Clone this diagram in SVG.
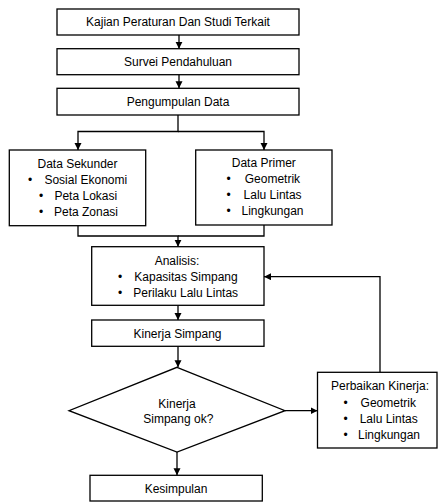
<svg xmlns="http://www.w3.org/2000/svg" width="438" height="503" viewBox="0 0 438 503">
<style>
  .box{fill:#fff;stroke:#000;stroke-width:1.3}
  .t{font-family:"Liberation Sans",Arial,sans-serif;font-size:12px;fill:#000;text-anchor:middle}
  .b{font-family:"Liberation Sans",Arial,sans-serif;font-size:12px;fill:#000;text-anchor:middle}
  .c{fill:none;stroke:#000;stroke-width:1.3}
</style>
<defs>
  <marker id="ah" markerUnits="userSpaceOnUse" markerWidth="8" markerHeight="8" refX="7" refY="3.5" orient="auto">
    <path d="M0,0 L7,3.5 L0,7 z" fill="#000"/>
  </marker>
</defs>
<rect width="438" height="503" fill="#fff"/>
<g id="connectors">
  <path class="c" d="M179,35 V48.7" marker-end="url(#ah)"/>
  <path class="c" d="M179,74.7 V88.3" marker-end="url(#ah)"/>
  <path class="c" d="M178,115 V131.5 H78 V150" marker-end="url(#ah)"/>
  <path class="c" d="M178,131.5 H264 V150" marker-end="url(#ah)"/>
  <path class="c" d="M78,226 V236 H178 V246.7" marker-end="url(#ah)"/>
  <path class="c" d="M264,225 V236 H178"/>
  <path class="c" d="M178,305.3 V320" marker-end="url(#ah)"/>
  <path class="c" d="M178,346.3 V367.3" marker-end="url(#ah)"/>
  <path class="c" d="M285,410.7 H317.5" marker-end="url(#ah)"/>
  <path class="c" d="M380,372.3 V276.7 H264" marker-end="url(#ah)"/>
  <path class="c" d="M177,452 V475.3" marker-end="url(#ah)"/>
</g>
<g id="kajian">
  <rect class="box" x="57" y="9" width="242" height="26"/>
  <text class="t" x="178" y="26">Kajian Peraturan Dan Studi Terkait</text>
</g>
<g id="survei">
  <rect class="box" x="57" y="48.7" width="242" height="26"/>
  <text class="t" x="178" y="66">Survei Pendahuluan</text>
</g>
<g id="pengumpulan">
  <rect class="box" x="57" y="88.3" width="242" height="26.7"/>
  <text class="t" x="178" y="106.3">Pengumpulan Data</text>
</g>
<g id="sekunder">
  <rect class="box" x="9.3" y="150" width="136.4" height="75.7"/>
  <text class="t" x="77.5" y="167.5">Data Sekunder</text>
  <text class="b" x="30" y="183.5">•</text>
  <text class="t" x="85.8" y="183.5">Sosial Ekonomi</text>
  <text class="b" x="41" y="200">•</text>
  <text class="t" x="85.8" y="200">Peta Lokasi</text>
  <text class="b" x="41" y="216">•</text>
  <text class="t" x="86" y="216">Peta Zonasi</text>
</g>
<g id="primer">
  <rect class="box" x="195.7" y="150" width="136.3" height="75"/>
  <text class="t" x="263.8" y="167">Data Primer</text>
  <text class="b" x="228.7" y="183">•</text>
  <text class="t" x="272.4" y="183">Geometrik</text>
  <text class="b" x="228.7" y="199.3">•</text>
  <text class="t" x="272.6" y="199.3">Lalu Lintas</text>
  <text class="b" x="228.7" y="215.3">•</text>
  <text class="t" x="272.5" y="215.3">Lingkungan</text>
</g>
<g id="analisis">
  <rect class="box" x="91.7" y="246.7" width="172.3" height="58.6"/>
  <text class="t" x="177" y="265.3">Analisis:</text>
  <text class="b" x="120" y="281">•</text>
  <text class="t" x="186" y="281">Kapasitas Simpang</text>
  <text class="b" x="120" y="296.6">•</text>
  <text class="t" x="185.7" y="296.6">Perilaku Lalu Lintas</text>
</g>
<g id="kinerja">
  <rect class="box" x="91.7" y="320" width="172.3" height="26.3"/>
  <text class="t" x="177.5" y="337.6">Kinerja Simpang</text>
</g>
<g id="keputusan">
  <polygon class="box" points="177,367.3 285,410.7 177,452 69,410.7"/>
  <text class="t" x="177" y="407.6">Kinerja</text>
  <text class="t" x="178.3" y="423.3">Simpang ok?</text>
</g>
<g id="perbaikan">
  <rect class="box" x="317.5" y="372.3" width="119.5" height="75.7"/>
  <text class="t" x="380" y="390.3">Perbaikan Kinerja:</text>
  <text class="b" x="345.7" y="406.6">•</text>
  <text class="t" x="388.3" y="406.6">Geometrik</text>
  <text class="b" x="345.7" y="422.6">•</text>
  <text class="t" x="388.7" y="422.6">Lalu Lintas</text>
  <text class="b" x="345.7" y="438.6">•</text>
  <text class="t" x="389" y="438.6">Lingkungan</text>
</g>
<g id="kesimpulan">
  <rect class="box" x="90" y="475.3" width="172.3" height="25.7"/>
  <text class="t" x="176" y="492.6">Kesimpulan</text>
</g>
</svg>
